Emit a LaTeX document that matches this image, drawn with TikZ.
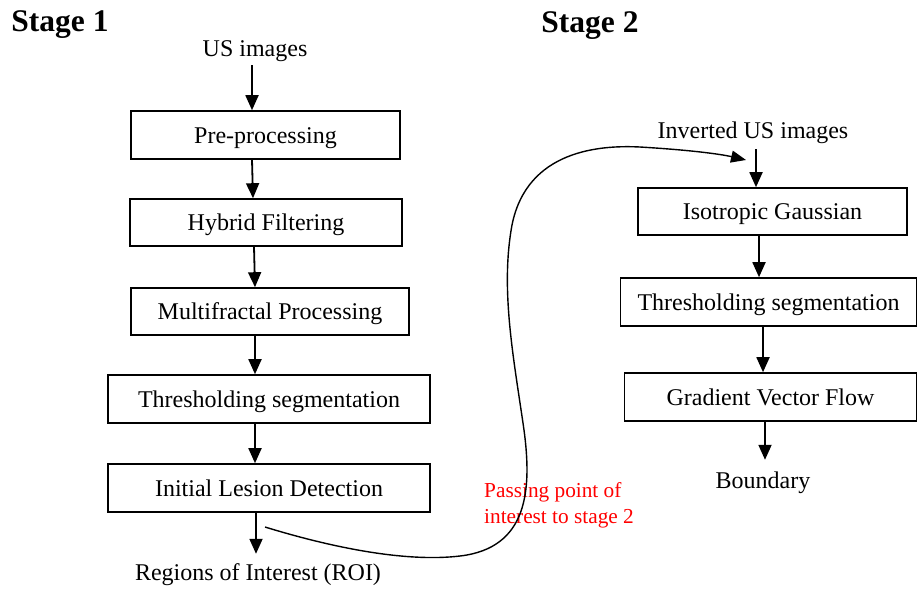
\documentclass[tikz,border=0pt]{standalone}
\usepackage{fontspec}
\setmainfont{Liberation Serif}
\usetikzlibrary{arrows.meta}
\begin{document}
\begin{tikzpicture}[x=1pt,y=-1pt,
  box/.style={draw,line width=1.6pt,minimum height=48pt,inner sep=0pt,text height=16pt,text depth=0pt,font=\fontsize{24}{28}\selectfont},
  lbl/.style={inner sep=0pt,text height=16pt,text depth=0pt,font=\fontsize{24}{28}\selectfont},
  stagelbl/.style={inner sep=0pt,text height=21pt,text depth=0pt,font=\fontsize{31.5}{36}\selectfont\bfseries},
  arr/.style={line width=1.8pt,-{Triangle[length=15pt,width=13pt]}},
  note/.style={inner sep=0pt,align=left,text=red,font=\fontsize{21.3}{26}\selectfont}]
\useasboundingbox (0,0) rectangle (917,590);
% Stage 1
\node[stagelbl] (s1) at (60,21) {Stage 1};
\node[lbl] (us) at (255,48) {US images};
\node[box,minimum width=269pt] (pre) at (265.5,135) {Pre-processing};
\node[box,minimum width=272pt,minimum height=47pt] (hyb) at (266,222.5) {Hybrid Filtering};
\node[box,minimum width=278pt,minimum height=47pt] (mul) at (270,311.5) {Multifractal Processing};
\node[box,minimum width=322pt] (thr1) at (269,399) {Thresholding segmentation};
\node[box,minimum width=322pt] (ild) at (269,488) {Initial Lesion Detection};
\node[lbl] (roi) at (258,572) {Regions of Interest (ROI)};
\draw[arr] ([yshift=-9pt]us.south -| 252,0) -- (pre.north -| 252,0);
\draw[arr] (pre.south -| 252,0) -- (hyb.north -| 253,0);
\draw[arr] (hyb.south -| 254,0) -- (mul.north -| 255,0);
\draw[arr] (mul.south -| 255,0) -- (thr1.north -| 255,0);
\draw[arr] (thr1.south -| 255,0) -- (ild.north -| 255,0);
\draw[arr] (ild.south -| 256,0) -- ([yshift=10pt]roi.north -| 256,0);
% Stage 2
\node[stagelbl] (s2) at (590,22) {Stage 2};
\node[lbl] (inv) at (753,130) {Inverted US images};
\node[box,minimum width=269pt,minimum height=47pt] (iso) at (772.5,211.5) {Isotropic Gaussian};
\node[box,minimum width=296pt] (thr2) at (768.5,302) {Thresholding segmentation};
\node[box,minimum width=292pt] (gvf) at (770.5,397) {Gradient Vector Flow};
\node[lbl] (bnd) at (763,480) {Boundary};
\draw[arr] ([yshift=-11pt]inv.south -| 756,0) -- (iso.north -| 756,0);
\draw[arr] (iso.south -| 759,0) -- (thr2.north -| 759,0);
\draw[arr] (thr2.south -| 763,0) -- (gvf.north -| 763,0);
\draw[arr] (gvf.south -| 765,0) -- ([yshift=12pt]bnd.north -| 765,0);
% passing curve
\node[note,anchor=north west] (pass) at (484,482) {Passing point of\\interest to stage 2};
\coordinate (cs) at (265,527);
\coordinate (ce) at (746,160);
\draw[line width=1.4pt,-{Triangle[length=15pt,width=12pt]}]
  (cs) .. controls (340,550) and (410,562) .. (460,556)
       .. controls (528,548) and (532,490) .. (524,430)
       .. controls (514,360) and (500,290) .. (512,225)
       .. controls (527,150) and (600,145) .. (640,147)
       .. controls (690,150) and (720,154) .. (ce);
\end{tikzpicture}
\end{document}
